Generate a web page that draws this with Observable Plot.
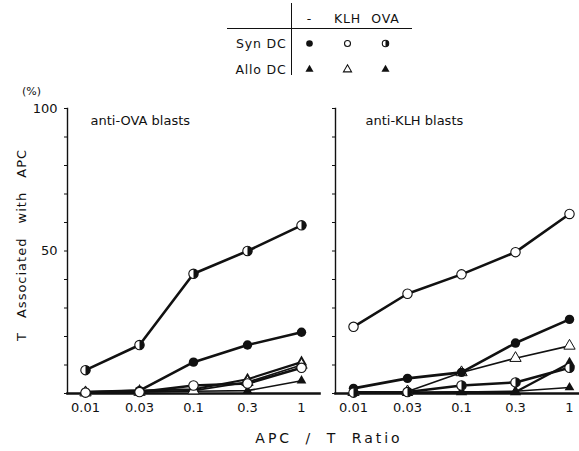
<!DOCTYPE html>
<html>
<head>
<meta charset="utf-8">
<script src="https://cdn.jsdelivr.net/npm/d3@7"></script>
<script src="https://cdn.jsdelivr.net/npm/@observablehq/plot@0.6"></script>
<style>
  html, body { margin: 0; padding: 0; background: #fff; }
  #wrap { position: relative; width: 579px; height: 451px; overflow: hidden;
          font-family: "DejaVu Sans", sans-serif; color: #111; }
  #chart, #legend { position: absolute; left: 0; top: 0; }
  #legend { left: 200px; }
  .lbl { position: absolute; white-space: nowrap; line-height: 1; }
  .hline { position: absolute; background: #111; }
</style>
</head>
<body>
<div id="wrap">
  <div id="chart"></div>
  <div id="legend"></div>
  <div class="hline" style="left:291px;top:3px;width:1.3px;height:72px"></div>
  <div class="hline" style="left:227px;top:28px;width:185px;height:1.2px"></div>
  <div class="lbl" style="left:22px;top:86px;font-size:11px">(%)</div>
  <div class="lbl" style="left:21px;top:245px;font-size:13px;letter-spacing:1px;word-spacing:9px;transform:translate(-50%,-50%) rotate(-90deg)">T Associated with APC</div>
  <div class="lbl" style="left:329px;top:438px;font-size:14px;letter-spacing:3px;word-spacing:6px;transform:translate(-50%,-50%)">APC / T Ratio</div>
</div>
<script>
// APC : T cell ratios on the x axis
const ratios = ["0.01", "0.03", "0.1", "0.3", "1"];
const panels = ["anti-OVA blasts", "anti-KLH blasts"];
const seriesNames = ["Syn -", "Syn KLH", "Syn OVA", "Allo -", "Allo KLH", "Allo OVA"];

// % of T blasts associated with APC — anti-OVA blasts
const ovaSynNone  = [0.5, 1.0, 11.0, 17.0, 21.5];
const ovaSynKLH   = [0.3, 0.5, 2.8, 3.5, 9.0];
const ovaSynOVA   = [8.2, 17.0, 42.0, 50.0, 59.0];
const ovaAlloNone = [0.3, 0.5, 0.8, 1.0, 4.5];
const ovaAlloKLH  = [0.3, 0.5, 1.0, 4.0, 10.0];
const ovaAlloOVA  = [0.5, 1.0, 1.5, 5.0, 11.0];

// % of T blasts associated with APC — anti-KLH blasts
const klhSynNone  = [1.8, 5.3, 7.4, 17.7, 26.0];
const klhSynKLH   = [23.4, 35.0, 41.8, 49.6, 63.0];
const klhSynOVA   = [0.3, 0.5, 2.8, 3.9, 9.0];
const klhAlloNone = [0.5, 0.3, 0.5, 0.8, 2.1];
const klhAlloKLH  = [0.5, 0.7, 7.4, 12.4, 16.7];
const klhAlloOVA  = [0.3, 0.3, 0.5, 0.5, 10.6];

const valuesByPanel = {
  "anti-OVA blasts": [ovaSynNone, ovaSynKLH, ovaSynOVA, ovaAlloNone, ovaAlloKLH, ovaAlloOVA],
  "anti-KLH blasts": [klhSynNone, klhSynKLH, klhSynOVA, klhAlloNone, klhAlloKLH, klhAlloOVA]
};

const rows = [];
for (const panel of panels) {
  valuesByPanel[panel].forEach((vals, i) => {
    vals.forEach((v, j) => rows.push({panel, series: seriesNames[i], ratio: ratios[j], value: v}));
  });
}
const of = (s) => rows.filter((d) => d.series === s);

// right half of a disc, for the half-filled circle marker
const halfDisc = {
  draw(ctx, size) {
    const r = Math.sqrt(size / Math.PI);
    ctx.moveTo(0, -r);
    ctx.arc(0, 0, r, -Math.PI / 2, Math.PI / 2);
    ctx.closePath();
  }
};

const font = "DejaVu Sans, sans-serif";
const lineW = {"Syn -": 2.6, "Syn KLH": 2.6, "Syn OVA": 2.6, "Allo -": 1.6, "Allo KLH": 1.6, "Allo OVA": 2.2};
const common = {x: "ratio", y: "value", fx: "panel"};

const marks = [];
for (const s of ["Allo -", "Allo KLH", "Allo OVA", "Syn KLH", "Syn -", "Syn OVA"]) {
  marks.push(Plot.line(of(s), {...common, stroke: "#111", strokeWidth: lineW[s]}));
}
marks.push(
  Plot.dot(of("Allo -"), {...common, symbol: "triangle", r: 3.6, fill: "#111"}),
  Plot.dot(of("Allo OVA"), {...common, symbol: "triangle", r: 4.2, fill: "#111"}),
  Plot.dot(of("Allo KLH"), {...common, symbol: "triangle", r: 4.2, fill: "#fff", stroke: "#111", strokeWidth: 1}),
  Plot.dot(of("Syn -"), {...common, r: 4.7, fill: "#111"}),
  Plot.dot(of("Syn KLH"), {...common, r: 4.7, fill: "#fff", stroke: "#111", strokeWidth: 1.1}),
  Plot.dot(of("Syn OVA"), {...common, r: 4.7, fill: "#fff", stroke: "#111", strokeWidth: 1.1}),
  Plot.dot(of("Syn OVA"), {...common, symbol: halfDisc, r: 4.7, fill: "#111"})
);

const chart = Plot.plot({
  width: 590,
  height: 451,
  marginLeft: 67,
  marginRight: 3,
  marginTop: 108,
  marginBottom: 58,
  style: {fontFamily: font, fontSize: "13px", color: "#111", background: "transparent", maxWidth: "none"},
  fx: {domain: panels, paddingInner: 0.06, paddingOuter: 0, axis: null},
  x: {type: "point", domain: ratios, padding: 0.31},
  y: {domain: [0, 100]},
  marks: [
    Plot.frame({anchor: "left", strokeWidth: 1.4, stroke: "#111"}),
    Plot.frame({anchor: "bottom", strokeWidth: 2.6, stroke: "#111"}),
    Plot.axisX({tickSize: 0, tickPadding: 9, label: null, fontSize: 13}),
    Plot.axisY({ticks: d3.range(0, 101, 10), tickSize: 3, tickFormat: () => "", label: null, facetAnchor: null}),
    Plot.axisY({ticks: [50, 100], tickSize: 0, tickPadding: 10, label: null, fontSize: 13}),
    Plot.text([panels[0]], {fx: (d) => d, text: (d) => d, frameAnchor: "top-left", textAnchor: "start", dx: 23, dy: 7, fontSize: 13}),
    Plot.text([panels[1]], {fx: (d) => d, text: (d) => d, frameAnchor: "top-left", textAnchor: "start", dx: 30, dy: 7, fontSize: 13}),
    ...marks
  ]
});
document.getElementById("chart").append(chart);

// symbol key: DC type × antigen
const dcTypes = ["Syn DC", "Allo DC"];
const antigens = ["-", "KLH", "OVA"];
const keyRows = [
  {dc: "Syn DC", ag: "-"}, {dc: "Syn DC", ag: "KLH"}, {dc: "Syn DC", ag: "OVA"},
  {dc: "Allo DC", ag: "-"}, {dc: "Allo DC", ag: "KLH"}, {dc: "Allo DC", ag: "OVA"}
];
const kOf = (dc, ag) => keyRows.filter((d) => d.dc === dc && d.ag === ag);
const kc = {x: "ag", y: "dc"};
const legend = Plot.plot({
  width: 220,
  height: 80,
  marginLeft: 92,
  marginTop: 29,
  marginRight: 0,
  marginBottom: 0,
  style: {fontFamily: font, fontSize: "12.5px", color: "#111", background: "transparent", maxWidth: "none", letterSpacing: "0.8px"},
  x: {type: "point", domain: antigens, range: [108, 185], padding: 0},
  y: {type: "point", domain: dcTypes, range: [43, 69], padding: 0},
  marks: [
    Plot.axisX({anchor: "top", tickSize: 0, tickPadding: 7, label: null}),
    Plot.axisY({tickSize: 0, tickPadding: 6, label: null}),
    Plot.dot(kOf("Syn DC", "-"), {...kc, r: 3.3, fill: "#111"}),
    Plot.dot(kOf("Syn DC", "KLH"), {...kc, r: 3, fill: "#fff", stroke: "#111", strokeWidth: 1.1}),
    Plot.dot(kOf("Syn DC", "OVA"), {...kc, r: 3.2, fill: "#fff", stroke: "#111", strokeWidth: 1.1}),
    Plot.dot(kOf("Syn DC", "OVA"), {...kc, symbol: halfDisc, r: 3.2, fill: "#111"}),
    Plot.dot(kOf("Allo DC", "-"), {...kc, symbol: "triangle", r: 3, fill: "#111"}),
    Plot.dot(kOf("Allo DC", "KLH"), {...kc, symbol: "triangle", r: 3, fill: "#fff", stroke: "#111", strokeWidth: 1.1}),
    Plot.dot(kOf("Allo DC", "OVA"), {...kc, symbol: "triangle", r: 3, fill: "#111"})
  ]
});
document.getElementById("legend").append(legend);
</script>
</body>
</html>
